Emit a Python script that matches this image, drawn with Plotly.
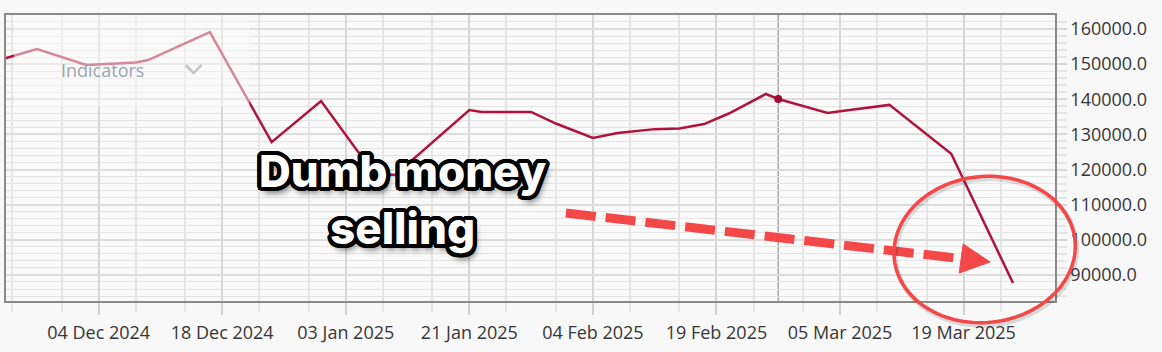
import numpy as np
import plotly.graph_objects as go

# ---------------- data ----------------
dates = [
    "2024-11-21", "2024-11-26", "2024-12-03", "2024-12-09", "2024-12-10",
    "2024-12-17", "2024-12-24", "2024-12-31", "2025-01-06", "2025-01-08",
    "2025-01-10", "2025-01-21", "2025-01-22", "2025-01-28", "2025-01-30",
    "2025-02-04", "2025-02-06", "2025-02-11", "2025-02-13", "2025-02-18",
    "2025-02-20", "2025-02-25", "2025-02-26", "2025-02-28", "2025-03-04",
    "2025-03-05", "2025-03-07", "2025-03-11", "2025-03-18", "2025-03-25",
]
values = [
    151200, 154300, 149750, 150450, 151150,
    159100, 127800, 139500, 125000, 118700,
    118450, 136950, 136400, 136400, 133100,
    129000, 130400, 131500, 131700, 132950,
    135950, 141500, 140080, 138200, 136100,
    136600, 137500, 138400, 124500, 87700,
]
highlight_date = "2025-02-26"
highlight_value = 140080

tick_dates = ["2024-12-04", "2024-12-18", "2025-01-03", "2025-01-21",
              "2025-02-04", "2025-02-19", "2025-03-05", "2025-03-19"]
minor_dates = ["2024-11-22", "2024-11-29", "2024-12-09", "2024-12-13",
               "2024-12-23", "2024-12-30", "2025-01-08", "2025-01-15",
               "2025-01-24", "2025-01-30", "2025-02-07", "2025-02-13",
               "2025-02-24", "2025-02-28", "2025-03-10", "2025-03-14",
               "2025-03-24"]
holidays = ["2024-11-28", "2024-12-25", "2025-01-01", "2025-01-09",
            "2025-01-20", "2025-02-17"]

annotation_text = "Dumb money<br>selling"

# ---------------- layout geometry ----------------
W, H = 1162, 352
ML, MR, MT, MB = 4, 107, 15, 51
PW, PH = W - ML - MR, H - MT - MB


def px(x):
    return (x - ML) / PW


def py(y):
    return (H - MB - y) / PH


RED = "#f44747"
LINE = "#b0143e"

fig = go.Figure()
fig.add_trace(go.Scatter(
    x=dates, y=values, mode="lines",
    line=dict(color=LINE, width=2.5), hoverinfo="skip", showlegend=False,
))
fig.add_trace(go.Scatter(
    x=[highlight_date], y=[highlight_value], mode="markers",
    marker=dict(color="#9c0c32", size=8), hoverinfo="skip", showlegend=False,
))

shapes = []
# crosshair
shapes.append(dict(type="line", xref="x", yref="paper", x0=highlight_date,
                   x1=highlight_date, y0=0, y1=1,
                   line=dict(color="#a8a8a8", width=1.5), layer="between"))
# faded overlay behind "Indicators"
shapes.append(dict(type="rect", xref="paper", yref="paper",
                   x0=px(12), x1=px(248), y0=py(107), y1=1,
                   fillcolor="rgba(250,250,250,0.5)", line=dict(width=0),
                   layer="above"))
# chevron
shapes.append(dict(type="path", xref="paper", yref="paper",
                   path=f"M {px(184)} {py(65)} L {px(192)} {py(73)} L {px(200)} {py(65)}",
                   line=dict(color="#c4c4c4", width=2.5), layer="above"))
# dashed arrow shaft
shapes.append(dict(type="line", xref="paper", yref="paper",
                   x0=px(565), y0=py(213), x1=px(955), y1=py(258),
                   line=dict(color=RED, width=9, dash="30px,10px"),
                   layer="above"))
# arrow head
shapes.append(dict(type="path", xref="paper", yref="paper",
                   path=(f"M {px(963)} {py(244)} L {px(990)} {py(262)} "
                         f"L {px(959)} {py(273)} Z"),
                   fillcolor=RED, line=dict(color=RED, width=1),
                   layer="above"))
# ellipse
cx, cy, a, b, ang = 984.5, 249.5, 91, 73, np.deg2rad(-6)
t = np.linspace(0, 2 * np.pi, 121)
ex = cx + a * np.cos(t) * np.cos(ang) - b * np.sin(t) * np.sin(ang)
ey = cy + a * np.cos(t) * np.sin(ang) + b * np.sin(t) * np.cos(ang)
pts = " L ".join(f"{px(x + 1.5)} {py(y + 2.5)}" for x, y in zip(ex, ey))
shapes.append(dict(type="path", xref="paper", yref="paper", path="M " + pts + " Z",
                   line=dict(color="rgba(0,0,0,0.12)", width=5), layer="above"))
pts = " L ".join(f"{px(x)} {py(y)}" for x, y in zip(ex, ey))
shapes.append(dict(type="path", xref="paper", yref="paper", path="M " + pts + " Z",
                   line=dict(color=RED, width=3.5), layer="above"))

outline = ", ".join(
    f"{4.2*np.cos(k):.1f}px {4.2*np.sin(k):.1f}px 0 #000"
    for k in np.linspace(0, 2 * np.pi, 20, endpoint=False)
) + ", 3px 6px 6px rgba(0,0,0,0.55)"

annotations = [
    dict(text="Indicators", xref="paper", yref="paper", x=px(57), y=py(70),
         xanchor="left", yanchor="middle", showarrow=False,
         font=dict(family="Open Sans", size=18, color="#9ea4ad")),
    dict(text=annotation_text, xref="paper", yref="paper", x=px(401), y=py(199),
         xanchor="center", yanchor="middle", showarrow=False,
         font=dict(family="Inter", size=44, weight=800, color="white",
                   shadow=outline)),
]

fig.update_layout(
    width=W, height=H,
    margin=dict(l=ML, r=MR, t=MT, b=MB, pad=0),
    paper_bgcolor="#f8f8f8", plot_bgcolor="#fafafa",
    shapes=shapes, annotations=annotations,
    font=dict(family="Open Sans", size=18, color="#363636"),
    showlegend=False,
)
fig.update_xaxes(
    type="date",
    range=["2024-11-21 12:00", "2025-03-28 09:36"],
    rangebreaks=[dict(bounds=["sat", "mon"]), dict(values=holidays)],
    tickmode="array", tickvals=tick_dates, tickformat="%d %b %Y",
    ticks="outside", ticklen=12, tickwidth=1.5, tickcolor="#d2d2d2",
    ticklabelstandoff=3,
    showgrid=True, gridcolor="#d6d6d6", gridwidth=1.5,
    minor=dict(tickmode="array", tickvals=minor_dates, ticks="outside",
               ticklen=9, tickcolor="#e6e6e6", tickwidth=1.5,
               showgrid=True, gridcolor="#e6e6e6", gridwidth=1.5),
    showline=True, linecolor="#8a8a8a", linewidth=1.5, mirror=True,
    zeroline=False, fixedrange=True,
)
fig.update_yaxes(
    side="right", range=[82590, 163980],
    tickmode="linear", tick0=0, dtick=10000, tickformat=".1f",
    ticks="outside", ticklen=10, tickwidth=1.5, tickcolor="#d8d8d8",
    showgrid=True, gridcolor="#dcdcdc", gridwidth=1.5,
    minor=dict(dtick=2000, ticks="outside", ticklen=10, tickcolor="#e6e6e6",
               showgrid=True, gridcolor="#e4e4e4", gridwidth=1.3),
    showline=True, linecolor="#8a8a8a", linewidth=1.5, mirror=True,
    zeroline=False, fixedrange=True,
)

fig.write_html("out.html", config={"displayModeBar": False})
